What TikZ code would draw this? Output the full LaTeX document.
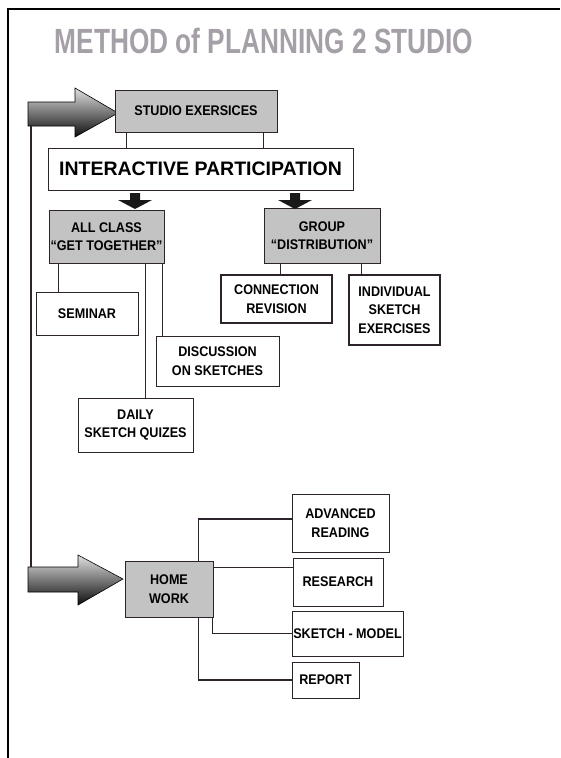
\documentclass[tikz,border=0pt]{standalone}
\usepackage{fontspec}
\setmainfont{Liberation Sans}
\newfontfamily\narrowsf[FakeStretch=0.9]{Liberation Sans}
\newfontfamily\titlesf[FakeStretch=0.75]{Liberation Sans}
\definecolor{boxgray}{RGB}{195,195,195}
\definecolor{lineclr}{RGB}{45,35,45}
\definecolor{titlegray}{RGB}{165,160,167}
\tikzset{
  box/.style={draw=lineclr, line width=1pt, fill=white, align=center, inner sep=1pt,
    font=\narrowsf\bfseries\fontsize{14}{18.5}\selectfont},
  graybox/.style={box, fill=boxgray},
  link/.style={draw=lineclr, line width=1.2pt},
  bigarrow/.style={top color=black!12, bottom color=black!95, draw=black, line width=.6pt},
}
\begin{document}
\begin{tikzpicture}[x=1pt,y=-1pt]
\useasboundingbox (0,0) rectangle (560,758);
% frame
\draw[line width=1.6pt] (8,758) -- (8,9) -- (560,9);
\node[text=titlegray, font=\titlesf\bfseries\fontsize{35}{40}\selectfont] (title) at (264,41) {METHOD of PLANNING 2 STUDIO};

% big arrows
\shadedraw[bigarrow] (28,102) -- (75,102) -- (75,88) -- (118,113) -- (75,137) -- (75,126) -- (28,126) -- cycle;
\shadedraw[bigarrow] (28,567) -- (78,567) -- (78,555) -- (123,579) -- (78,605) -- (78,592) -- (28,592) -- cycle;
\coordinate (loop top) at (31,126);
\coordinate (loop bot) at (31,567);
\draw[link] (loop top) -- (loop bot);

% boxes
\node[graybox, minimum width=162, minimum height=42] (studio) at (196,111) {STUDIO EXERSICES};
\node[box, minimum width=305, minimum height=42, font=\bfseries\fontsize{19.5}{22}\selectfont] (inter) at (200.5,169) {INTERACTIVE PARTICIPATION};
\node[graybox, minimum width=115, minimum height=53] (allclass) at (106.5,236.5) {ALL CLASS\\“GET TOGETHER”};
\node[graybox, minimum width=116, minimum height=55] (group) at (322,235.5) {GROUP\\“DISTRIBUTION”};
\node[box, minimum width=102, minimum height=43] (seminar) at (87,313.5) {SEMINAR};
\node[box, minimum width=123, minimum height=50] (discuss) at (217.5,361) {DISCUSSION\\ON SKETCHES};
\node[box, minimum width=115, minimum height=54] (daily) at (135.5,425) {DAILY\\SKETCH QUIZES};
\node[box, line width=1.8pt, minimum width=111, minimum height=48] (connect) at (276.5,299) {CONNECTION\\REVISION};
\node[box, line width=1.3pt, minimum width=91, minimum height=70] (individ) at (394.5,310) {INDIVIDUAL\\SKETCH\\EXERCISES};
\node[graybox, minimum width=88, minimum height=56] (home) at (169,589) {HOME\\WORK};
\node[box, minimum width=97, minimum height=58] (advanced) at (340.5,523) {ADVANCED\\READING};
\node[box, minimum width=90, minimum height=48] (research) at (338,582) {RESEARCH};
\node[box, minimum width=111, minimum height=45] (sketch) at (347.5,633.5) {SKETCH - MODEL};
\node[box, minimum width=67, minimum height=36] (report) at (325.5,680) {REPORT};

% small black arrows
\foreach \x in {135,295}
\fill[black!90] (\x-5,193) -- (\x+5,193) -- (\x+5,200) -- (\x+17,200) -- (\x,209) -- (\x-17,200) -- (\x-5,200) -- cycle;

% connectors
\draw[link] ([xshift=12]studio.south west) -- ([xshift=12]studio.south west |- inter.north);
\draw[link] ([xshift=-14]studio.south east) -- ([xshift=-14]studio.south east |- inter.north);
\draw[link] ([xshift=10]allclass.south west) -- ([xshift=10]allclass.south west |- seminar.north);
\draw[link] ([xshift=97]allclass.south west) -- ([xshift=97]allclass.south west |- daily.north);
\draw[link] ([xshift=-2]allclass.south east) -- ([xshift=-2]allclass.south east |- discuss.north);
\draw[link] ([xshift=17]group.south west) -- ([xshift=17]group.south west |- connect.north);
\draw[link] ([xshift=98]group.south west) -- ([xshift=98]group.south west |- individ.north);
\draw[link] ([xshift=74]home.north west) |- ([yshift=4]advanced.west);
\draw[link] ([yshift=-7]home.north east) -- ([yshift=-7]home.north east -| research.west);
\draw[link] ([xshift=-1]home.south east) |- (sketch.west);
\draw[link] ([xshift=74]home.south west) |- (report.west);
\end{tikzpicture}
\end{document}
